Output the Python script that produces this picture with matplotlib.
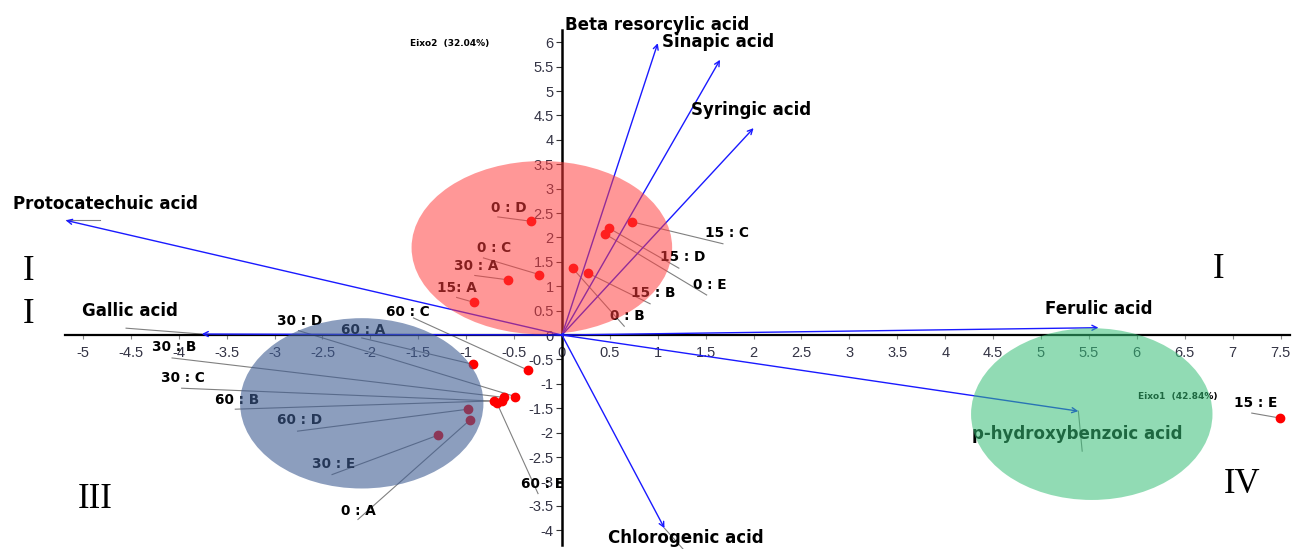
import numpy as np
import matplotlib
matplotlib.use("Agg")
import matplotlib.pyplot as plt
from matplotlib.patches import Ellipse
from matplotlib.ticker import FuncFormatter

# ────────────────────────────────────────────────────────────────
# DATA  (PCA biplot: Eixo1 x Eixo2)
# ────────────────────────────────────────────────────────────────
samples = ['0 : D', '0 : C', '30 : A', '15: A', '15 : C', '15 : D', '0 : E',
           '15 : B', '0 : B', '60 : C', '60 : A', '30 : D', '30 : B', '30 : C',
           '60 : B', '60 : E', '60 : D', '0 : A', '30 : E', '15 : E']
score1 = [-0.32, -0.24, -0.56, -0.92, 0.73, 0.49, 0.45, 0.27, 0.11, -0.355,
          -0.93, -0.49, -0.60, -0.63, -0.71, -0.68, -0.98, -0.96, -1.29, 7.49]
score2 = [2.33, 1.24, 1.13, 0.67, 2.32, 2.19, 2.07, 1.27, 1.37, -0.72,
          -0.60, -1.26, -1.28, -1.36, -1.35, -1.39, -1.52, -1.74, -2.05, -1.70]

acids = ['Beta resorcylic acid', 'Sinapic acid', 'Syringic acid',
         'Protocatechuic acid', 'Gallic acid', 'Ferulic acid',
         'p-hydroxybenzoic acid', 'Chlorogenic acid']
load1 = [1.00, 1.65, 2.00, -5.18, -3.76, 5.60, 5.39, 1.07]
load2 = [5.98, 5.64, 4.24, 2.35, 0.02, 0.15, -1.56, -3.96]

# label placement (left edge, centre y) and leader-line start
sample_lx = [-0.74, -0.89, -1.13, -1.30, 1.49, 1.02, 1.37, 0.72, 0.50, -1.84,
             -2.31, -2.97, -4.28, -4.19, -3.62, -0.43, -2.97, -2.31, -2.61, 7.01]
sample_ly = [2.61, 1.79, 1.42, 0.96, 2.09, 1.60, 1.03, 0.86, 0.39, 0.47,
             0.10, 0.28, -0.25, -0.88, -1.33, -3.05, -1.75, -3.60, -2.65, -1.40]
leader_x = [-0.67, -0.82, -0.91, -1.10, 1.68, 1.22, 1.51, 0.92, 0.65, -1.55,
            -2.09, -2.75, -4.07, -3.97, -3.41, -0.25, -2.76, -2.13, -2.40, 7.20]
leader_y = [2.42, 1.58, 1.22, 0.77, 1.87, 1.37, 0.82, 0.64, 0.18, 0.35,
            -0.06, 0.09, -0.47, -1.09, -1.52, -3.25, -1.97, -3.78, -2.86, -1.60]

acid_lx = [0.03, 1.04, 1.35, -5.73, -5.01, 5.04, 4.28, 0.48]
acid_ly = [6.35, 6.01, 4.61, 2.68, 0.49, 0.53, -2.02, -4.16]
acid_leader = [None, None, None, (-4.82, 2.35), (-4.55, 0.14), None,
               (5.43, -2.38), (1.27, -4.40)]

# groups
group_cx = [-0.21, -2.09, 5.53]
group_cy = [1.79, -1.40, -1.62]
group_w = [2.72, 2.54, 2.52]
group_h = [3.55, 3.49, 3.52]
group_col = ['#ff3c3c', '#3f5d93', '#37bf77']
group_alpha = [0.53, 0.60, 0.55]

quadrants = ['I', 'I', 'I', 'III', 'IV']
quad_x = [-5.57, -5.57, 6.85, -4.87, 7.10]
quad_y = [1.31, 0.43, 1.35, -3.38, -3.06]

# ────────────────────────────────────────────────────────────────
# PLOT
# ────────────────────────────────────────────────────────────────
fig = plt.figure(figsize=(12.92, 5.49), dpi=100)
ax = fig.add_axes([0, 0, 1, 1])
ax.set_xlim(-5.866, 7.62)
ax.set_ylim(-4.385, 6.865)

for s in ['top', 'right']:
    ax.spines[s].set_visible(False)
ax.spines['left'].set_position(('data', 0))
ax.spines['bottom'].set_position(('data', 0))
ax.spines['left'].set_bounds(-4.30, 6.25)
ax.spines['bottom'].set_bounds(-5.19, 7.60)
ax.spines['left'].set_linewidth(1.8)
ax.spines['bottom'].set_linewidth(1.6)

ax.set_xticks(np.arange(-5, 7.51, 0.5))
ax.set_yticks(np.arange(-4, 6.01, 0.5))
fmt = FuncFormatter(lambda v, p: f'{v:g}')
ax.xaxis.set_major_formatter(fmt)
ax.yaxis.set_major_formatter(fmt)
tick_font = ['Liberation Sans', 'DejaVu Sans']
ax.tick_params(axis='x', direction='out', length=3, width=0.8, color='#888888',
               pad=5, labelsize=10.5, labelcolor='#333344')
ax.tick_params(axis='y', direction='out', length=4, width=0.8, color='#333333',
               pad=2, labelsize=10.5, labelcolor='#333344')
for lab in ax.get_xticklabels() + ax.get_yticklabels():
    lab.set_family(tick_font)

# loading vectors
for name, lx1, ly1, tx, ty, ld in zip(acids, load1, load2, acid_lx, acid_ly, acid_leader):
    ax.annotate('', xy=(lx1, ly1), xytext=(0, 0),
                arrowprops=dict(arrowstyle='->', color='#1a1aff', lw=1.0,
                                shrinkA=0, shrinkB=0, mutation_scale=9))
    if ld is not None:
        ax.plot([lx1, ld[0]], [ly1, ld[1]], color='#808080', lw=0.8)
    ax.text(tx, ty, name, ha='left', va='center', fontsize=12,
            fontweight='bold', color='black', family='DejaVu Sans')

# sample scores
for name, x, y, tx, ty, lx, ly in zip(samples, score1, score2, sample_lx,
                                      sample_ly, leader_x, leader_y):
    ax.plot([lx, x], [ly, y], color='#808080', lw=0.8)
    ax.text(tx, ty, name, ha='left', va='center', fontsize=9.8,
            fontweight='bold', color='black', family='DejaVu Sans')
ax.plot(score1, score2, 'o', color='#ff0000', markersize=6, zorder=4)

# axis titles
ax.text(-1.59, 5.98, 'Eixo2  (32.04%)', fontsize=6.5, fontweight='bold',
        ha='left', va='center')
ax.text(6.01, -1.27, 'Eixo1  (42.84%)', fontsize=6.5, fontweight='bold',
        ha='left', va='center')

# quadrant numerals
for q, x, y in zip(quadrants, quad_x, quad_y):
    ax.text(x, y, q, ha='center', va='center', fontsize=25,
            family='Liberation Serif', color='black')

# groups drawn on top (tint what lies below)
for cx, cy, w, h, c, a in zip(group_cx, group_cy, group_w, group_h, group_col, group_alpha):
    ax.add_patch(Ellipse((cx, cy), w, h, facecolor=c, edgecolor='none',
                         alpha=a, zorder=10))

plt.savefig('out.png', dpi=100)
plt.close()
